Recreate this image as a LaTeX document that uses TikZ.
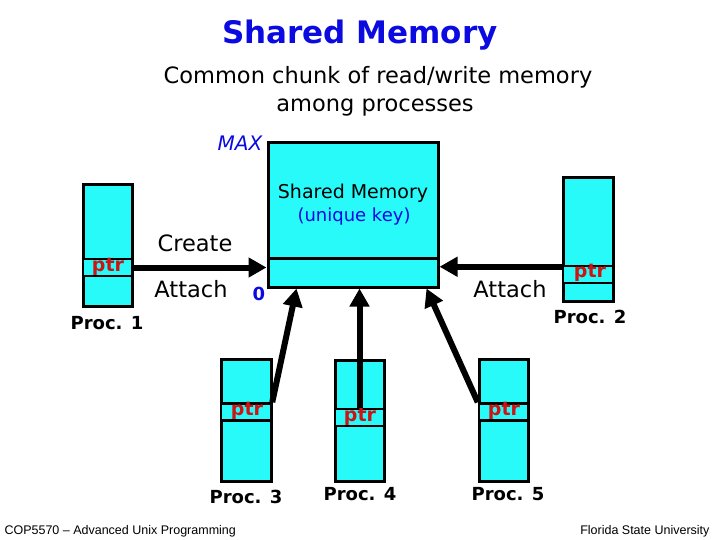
\documentclass[tikz,border=0pt]{standalone}
\usepackage{fontspec}
\setmainfont{DejaVu Sans}
\newfontfamily\footfont{Liberation Sans}
\usetikzlibrary{arrows.meta}
\definecolor{boxfill}{RGB}{40,250,250}
\definecolor{tblue}{RGB}{10,10,225}
\definecolor{pred}{RGB}{205,20,20}
\tikzset{
  membox/.style={draw=black, line width=3pt, fill=boxfill, inner sep=0pt},
  slotbox/.style={draw=black, line width=2.5pt, fill=boxfill, inner sep=0pt, minimum height=17pt},
  ptrtext/.style={text=pred, font=\fontsize{19}{19}\selectfont\bfseries},
  proclabel/.style={font=\fontsize{18}{18}\selectfont\bfseries},
  oplabel/.style={font=\fontsize{22.5}{22.5}\selectfont},
  bigarrow/.style={line width=6pt, -{Triangle[length=18pt,width=19pt]}},
}
\begin{document}
\begin{tikzpicture}[x=1pt,y=-1pt]
\useasboundingbox (0,0) rectangle (720,540);
% titles
\node[text=tblue, font=\fontsize{31}{31}\selectfont\bfseries] (title) at (360,35) {Shared Memory};
\node[font=\fontsize{22.5}{22.5}\selectfont] (sub1) at (378,77) {Common chunk of read/write memory};
\node[font=\fontsize{22.5}{22.5}\selectfont] (sub2) at (375,108) {among processes};
% shared memory
\node[membox, minimum width=170pt, minimum height=144pt] (shm) at (353,215) {};
\node[membox, minimum width=170pt, minimum height=29pt] (shmlow) at (353,272.5) {};
\node[font=\fontsize{19}{19}\selectfont] (shmtext) at (353,193) {Shared Memory};
\node[text=tblue, font=\fontsize{18}{18}\selectfont] (key) at (354,217) {(unique key)};
\node[text=tblue, font=\fontsize{20}{20}\selectfont\itshape] (max) at (240,143) {MAX};
\node[text=tblue, font=\fontsize{18}{18}\selectfont\bfseries] (zero) at (259,294) {0};
% Proc 1
\node[membox, minimum width=49pt, minimum height=121pt] (p1) at (107.5,245.5) {};
\node[slotbox, minimum width=49pt] (p1s) at (107.5,267.5) {};
\node[ptrtext] (p1t) at (108,267) {ptr};
\node[proclabel] (p1l) at (107,323) {Proc. 1};
% Proc 2
\node[membox, minimum width=50pt, minimum height=123pt] (p2) at (588,239.5) {};
\node[slotbox, minimum width=50pt] (p2s) at (588,274.5) {};
\node[ptrtext] (p2t) at (590,273) {ptr};
\node[proclabel] (p2l) at (590,317) {Proc. 2};
% Proc 3
\node[membox, minimum width=50pt, minimum height=122pt] (p3) at (246,420) {};
\node[slotbox, minimum width=50pt] (p3s) at (246,412) {};
\node[ptrtext] (p3t) at (247,411) {ptr};
\node[proclabel] (p3l) at (246,497) {Proc. 3};
% Proc 4
\node[membox, minimum width=49pt, minimum height=121pt] (p4) at (359.5,420.5) {};
\node[slotbox, minimum width=49pt] (p4s) at (359.5,417.5) {};
\node[ptrtext] (p4t) at (360,417) {ptr};
\node[proclabel] (p4l) at (360,494) {Proc. 4};
% Proc 5
\node[membox, minimum width=49pt, minimum height=122pt] (p5) at (503.5,420) {};
\node[slotbox, minimum width=49pt] (p5s) at (503.5,412) {};
\node[ptrtext] (p5t) at (504,411) {ptr};
\node[proclabel] (p5l) at (508,494) {Proc. 5};
% operation labels
\node[oplabel] (create) at (195,243) {Create};
\node[oplabel] (attach1) at (191,289) {Attach};
\node[oplabel] (attach2) at (510,289) {Attach};
% arrows
\coordinate (a2) at ([yshift=-2pt]p2s.north west);
\draw[bigarrow] (p1s.east) -- (p1s.east -| shmlow.west);
\draw[bigarrow] (a2) -- (a2 -| shmlow.east);
\draw[bigarrow] (p3s.north east) -- ([xshift=30pt]shmlow.south west);
\draw[bigarrow] (p4s.north) -- (p4s.north |- shmlow.south);
\draw[bigarrow] (p5s.north west) -- ([xshift=-13pt]shmlow.south east);
% footer
\node[font=\footfont\fontsize{12.5}{12.5}\selectfont, anchor=west] (foot1) at (1,531) {COP5570 – Advanced Unix Programming};
\node[font=\footfont\fontsize{12.5}{12.5}\selectfont, anchor=east] (foot2) at (713,531) {Florida State University};
\end{tikzpicture}
\end{document}
